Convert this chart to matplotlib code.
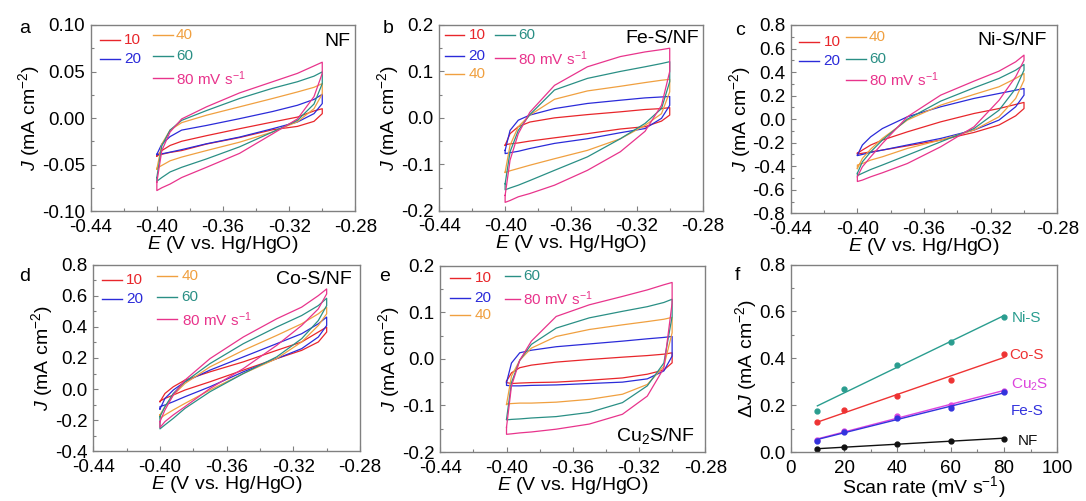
import numpy as np
import matplotlib
matplotlib.use("Agg")
import matplotlib.pyplot as plt
from matplotlib.ticker import MultipleLocator

plt.rcParams['font.family'] = ['Liberation Sans', 'DejaVu Sans']
plt.rcParams['mathtext.fontset'] = 'custom'
plt.rcParams['mathtext.rm'] = 'Liberation Sans'
plt.rcParams['mathtext.it'] = 'Liberation Sans:italic'

# potential points of the forward sweep (the reverse sweep uses them backwards)
E_fwd = [-0.400, -0.397, -0.392, -0.385, -0.370, -0.350, -0.330, -0.315, -0.305, -0.300]
E_rev = E_fwd[::-1]
rates = [10, 20, 40, 60, 80]
rate_labels = ['10', '20', '40', '60', '80 mV s$^{-1}$']
rate_colors = ['#e8262b', '#2b2bd9', '#f0a040', '#2a8f85', '#e8348c']

# a  NF
nf_up = [[-0.041, -0.035, -0.0295, -0.025, -0.019, -0.0115, -0.0043, 0.001, 0.0076, 0.010],
         [-0.039, -0.028, -0.020, -0.013, -0.008, -0.0007, 0.007, 0.0137, 0.020, 0.0255],
         [-0.055, -0.028, -0.013, -0.005, 0.003, 0.012, 0.021, 0.028, 0.033, 0.037],
         [-0.064, -0.030, -0.013, -0.0025, 0.008, 0.021, 0.032, 0.039, 0.045, 0.0496],
         [-0.069, -0.035, -0.015, -0.001, 0.012, 0.027, 0.039, 0.048, 0.056, 0.060]]
nf_down = [[0.0047, -0.0036, -0.009, -0.0126, -0.021, -0.028, -0.035, -0.037, -0.039, -0.040],
           [0.0155, 0.0047, -0.0043, -0.0115, -0.0205, -0.0277, -0.034, -0.0367, -0.0385, -0.0396],
           [0.026, 0.010, -0.004, -0.015, -0.026, -0.035, -0.042, -0.046, -0.051, -0.054],
           [0.037, 0.015, -0.0025, -0.015, -0.031, -0.044, -0.053, -0.058, -0.064, -0.068],
           [0.048, 0.023, -0.001, -0.017, -0.038, -0.053, -0.064, -0.071, -0.075, -0.078]]

# b  Fe-S/NF
fes_up = [[-0.059, -0.034, -0.019, -0.009, 0.000, 0.007, 0.013, 0.018, 0.020, 0.022],
          [-0.070, -0.027, -0.005, 0.006, 0.020, 0.031, 0.038, 0.043, 0.045, 0.046],
          [-0.117, -0.059, -0.019, 0.006, 0.040, 0.058, 0.068, 0.076, 0.081, 0.083],
          [-0.142, -0.073, -0.027, 0.007, 0.060, 0.085, 0.100, 0.110, 0.117, 0.121],
          [-0.167, -0.091, -0.034, 0.012, 0.070, 0.110, 0.132, 0.142, 0.147, 0.150]]
fes_down = [[0.006, -0.007, -0.019, -0.024, -0.034, -0.043, -0.050, -0.054, -0.056, -0.058],
            [0.027, -0.001, -0.023, -0.032, -0.045, -0.055, -0.066, -0.072, -0.075, -0.077],
            [0.056, 0.009, -0.016, -0.045, -0.070, -0.088, -0.102, -0.109, -0.114, -0.118],
            [0.078, 0.020, -0.012, -0.045, -0.084, -0.113, -0.135, -0.145, -0.151, -0.155],
            [0.100, 0.027, -0.029, -0.073, -0.113, -0.145, -0.163, -0.170, -0.178, -0.182]]

# c  Ni-S/NF
nis_up = [[-0.29, -0.263, -0.22, -0.178, -0.108, -0.023, 0.048, 0.09, 0.125, 0.142],
          [-0.306, -0.22, -0.15, -0.08, 0.02, 0.105, 0.176, 0.218, 0.246, 0.26],
          [-0.42, -0.334, -0.255, -0.164, -0.008, 0.119, 0.21, 0.275, 0.346, 0.388],
          [-0.46, -0.363, -0.278, -0.178, 0.0, 0.153, 0.266, 0.346, 0.416, 0.465],
          [-0.49, -0.405, -0.32, -0.207, 0.02, 0.204, 0.323, 0.408, 0.487, 0.544]]
nis_down = [[0.09, 0.028, -0.05, -0.113, -0.178, -0.227, -0.263, -0.278, -0.29, -0.297],
            [0.204, 0.105, -0.008, -0.093, -0.164, -0.22, -0.263, -0.283, -0.30, -0.31],
            [0.33, 0.176, 0.02, -0.093, -0.178, -0.249, -0.32, -0.348, -0.377, -0.39],
            [0.416, 0.26, 0.076, -0.08, -0.193, -0.306, -0.39, -0.428, -0.46, -0.48],
            [0.50, 0.36, 0.16, -0.065, -0.235, -0.377, -0.456, -0.49, -0.518, -0.53]]

# d  Co-S/NF
cos_up = [[-0.081, -0.028, 0.015, 0.058, 0.111, 0.175, 0.249, 0.303, 0.367, 0.399],
          [-0.128, -0.06, -0.006, 0.047, 0.122, 0.207, 0.292, 0.356, 0.42, 0.463],
          [-0.166, -0.113, -0.038, 0.036, 0.143, 0.249, 0.345, 0.42, 0.484, 0.527],
          [-0.177, -0.113, -0.028, 0.047, 0.164, 0.292, 0.399, 0.473, 0.537, 0.584],
          [-0.209, -0.134, -0.038, 0.058, 0.196, 0.335, 0.452, 0.527, 0.601, 0.644]]
cos_down = [[0.367, 0.303, 0.249, 0.196, 0.122, 0.047, -0.006, -0.038, -0.06, -0.077],
            [0.409, 0.335, 0.26, 0.196, 0.111, 0.015, -0.049, -0.081, -0.102, -0.113],
            [0.484, 0.409, 0.303, 0.196, 0.10, -0.006, -0.092, -0.134, -0.166, -0.188],
            [0.537, 0.441, 0.324, 0.207, 0.10, -0.017, -0.124, -0.188, -0.23, -0.256],
            [0.612, 0.516, 0.409, 0.281, 0.132, 0.004, -0.113, -0.166, -0.209, -0.247]]

# e  Cu2S/NF
cus_up = [[-0.048, -0.03, -0.019, -0.0135, -0.007, -0.0014, 0.0036, 0.007, 0.010, 0.013],
          [-0.051, -0.009, 0.013, 0.0185, 0.026, 0.032, 0.038, 0.043, 0.046, 0.048],
          [-0.098, -0.037, -0.003, 0.023, 0.048, 0.063, 0.073, 0.080, 0.085, 0.089],
          [-0.13, -0.051, -0.003, 0.031, 0.066, 0.088, 0.102, 0.112, 0.121, 0.128],
          [-0.147, -0.058, -0.003, 0.038, 0.091, 0.116, 0.134, 0.148, 0.159, 0.164]]
cus_down = [[-0.0085, -0.024, -0.033, -0.041, -0.046, -0.050, -0.051, -0.052, -0.053, -0.051],
            [0.006, -0.026, -0.043, -0.05, -0.053, -0.056, -0.057, -0.058, -0.058, -0.057],
            [0.056, -0.016, -0.055, -0.076, -0.087, -0.093, -0.095, -0.095, -0.096, -0.097],
            [0.091, -0.009, -0.058, -0.094, -0.115, -0.124, -0.127, -0.129, -0.13, -0.131],
            [0.12, -0.02, -0.08, -0.119, -0.14, -0.151, -0.157, -0.159, -0.161, -0.162]]

# f  delta J vs scan rate
dj_names = ['Ni-S', 'Co-S', 'Cu$_2$S', 'Fe-S', 'NF']
dj_colors = ['#2a9d8f', '#ee3333', '#dd44dd', '#3333dd', '#111111']
dj_values = [[0.176, 0.270, 0.372, 0.471, 0.576],
             [0.126, 0.180, 0.237, 0.308, 0.417],
             [0.050, 0.088, 0.152, 0.201, 0.261],
             [0.048, 0.087, 0.145, 0.187, 0.255],
             [0.013, 0.020, 0.035, 0.048, 0.057]]
dj_label_pos = [(83, 0.57), (82, 0.414), (82.5, 0.287), (82.5, 0.177), (85, 0.048)]

FS = 14
TFS = 13.5
SPINE = '#808080'


def style(ax):
    for s in ax.spines.values():
        s.set_color(SPINE)
        s.set_linewidth(1.0)
    ax.tick_params(which='both', direction='in', color=SPINE, labelsize=TFS,
                   top=False, right=False)
    ax.tick_params(axis='x', which='both', pad=5.5)
    ax.tick_params(axis='y', which='both', pad=4)
    ax.tick_params(which='major', length=3.5, width=0.8)
    ax.tick_params(which='minor', length=2.5, width=0.8)


def cv_panel(rect, up, down, ylim, ystep, legend, title, title_xy, letter, letter_xy):
    ax = fig.add_axes(rect)
    for i in range(5):
        x = E_fwd + E_rev + [E_fwd[0]]
        y = up[i] + down[i] + [up[i][0]]
        ax.plot(x, y, color=rate_colors[i], lw=0.9)
    ax.set_xlim(-0.44, -0.28)
    ax.set_ylim(*ylim)
    ax.xaxis.set_major_locator(MultipleLocator(0.04))
    ax.xaxis.set_minor_locator(MultipleLocator(0.02))
    ax.yaxis.set_major_locator(MultipleLocator(ystep))
    ax.yaxis.set_minor_locator(MultipleLocator(ystep / 2))
    ax.xaxis.set_major_formatter(matplotlib.ticker.FormatStrFormatter('%.2f'))
    nd = 2 if ystep < 0.1 else 1
    ax.yaxis.set_major_formatter(matplotlib.ticker.FormatStrFormatter('%.' + str(nd) + 'f'))
    style(ax)
    ax.set_xlabel(r'$\mathit{E}$ (V vs. Hg/HgO)', fontsize=FS, labelpad=-1.5)
    ax.set_ylabel(r'$\mathit{J}$ (mA cm$^{-2}$)', fontsize=FS, labelpad=0)
    # hand-drawn legend: (line x0, line x1, text x, y) per rate
    for i, (x0, x1, xt, yy) in enumerate(legend):
        ax.plot([x0, x1], [yy, yy], color=rate_colors[i], lw=1.0, transform=ax.transAxes)
        ax.text(xt, yy, rate_labels[i], color=rate_colors[i], fontsize=11,
                va='center', ha='left', transform=ax.transAxes)
    ax.text(title_xy[0], title_xy[1], title, fontsize=14, ha='right', va='center',
            transform=ax.transAxes)
    fig.text(letter_xy[0], letter_xy[1], letter, fontsize=14, ha='left', va='center')
    return ax


fig = plt.figure(figsize=(10.86, 5.01), dpi=100)

c1a = (0.035, 0.111, 0.126)
c2a = (0.237, 0.312, 0.322)
cv_panel([0.0835, 0.5788, 0.2437, 0.3713], nf_up, nf_down, (-0.10, 0.10), 0.05,
         [c1a + (0.919,), c1a + (0.815,), c2a + (0.946,), c2a + (0.833,), c2a + (0.713,)],
         'NF', (0.982, 0.91), 'a', (0.018, 0.944))

c1b = (0.020, 0.092, 0.111)
c2b = (0.213, 0.289, 0.299)
cv_panel([0.4045, 0.5794, 0.2425, 0.3707], fes_up, fes_down, (-0.2, 0.2), 0.1,
         [c1b + (0.946,), c1b + (0.833,), c1b + (0.736,), c2b + (0.946,), c2b + (0.820,)],
         'Fe-S/NF', (0.985, 0.928), 'b', (0.352, 0.944))

c1c = (0.031, 0.106, 0.123)
c2c = (0.206, 0.281, 0.294)
cv_panel([0.7281, 0.5743, 0.2455, 0.3758], nis_up, nis_down, (-0.8, 0.8), 0.2,
         [c1c + (0.912,), c1c + (0.809,), c2c + (0.935,), c2c + (0.818,), c2c + (0.708,)],
         'Ni-S/NF', (0.96, 0.92), 'c', (0.677, 0.94))

c1d = (0.031, 0.106, 0.122)
c2d = (0.2375, 0.3125, 0.331)
cv_panel([0.0859, 0.0992, 0.2456, 0.3725], cos_up, cos_down, (-0.4, 0.8), 0.2,
         [c1d + (0.92,), c1d + (0.817,), c2d + (0.938,), c2d + (0.826,), c2d + (0.707,)],
         'Co-S/NF', (0.97, 0.92), 'd', (0.018, 0.449))

c1e = (0.038, 0.113, 0.13)
c2e = (0.245, 0.30, 0.314)
cv_panel([0.4054, 0.0978, 0.244, 0.3719], cus_up, cus_down, (-0.2, 0.2), 0.1,
         [c1e + (0.932,), c1e + (0.826,), c1e + (0.733,), c2e + (0.943,), c2e + (0.822,)],
         'Cu$_2$S/NF', (0.96, 0.084), 'e', (0.349, 0.449))

# f
ax = fig.add_axes([0.7281, 0.0978, 0.2455, 0.3742])
for name, col, vals, pos in zip(dj_names, dj_colors, dj_values, dj_label_pos):
    k, b = np.polyfit(rates, vals, 1)
    xs = np.array([rates[0], rates[-1]])
    ax.plot(xs, k * xs + b, color=col, lw=1.0)
    ax.plot(rates, vals, 'o', color=col, ms=3.5)
    ax.text(pos[0], pos[1], name, color=col, fontsize=11, ha='left', va='center')
ax.set_xlim(0, 100)
ax.set_ylim(0, 0.8)
ax.xaxis.set_major_locator(MultipleLocator(20))
ax.xaxis.set_minor_locator(MultipleLocator(10))
ax.yaxis.set_major_locator(MultipleLocator(0.2))
ax.yaxis.set_minor_locator(MultipleLocator(0.1))
ax.yaxis.set_major_formatter(matplotlib.ticker.FormatStrFormatter('%.1f'))
style(ax)
ax.set_xlabel('Scan rate (mV s$^{-1}$)', fontsize=FS, labelpad=-1.5)
ax.set_ylabel(r'$\mathit{ΔJ}$ (mA cm$^{-2}$)', fontsize=FS, labelpad=0)
fig.text(0.677, 0.451, 'f', fontsize=14, ha='left', va='center')

fig.savefig('out.png', dpi=100)
